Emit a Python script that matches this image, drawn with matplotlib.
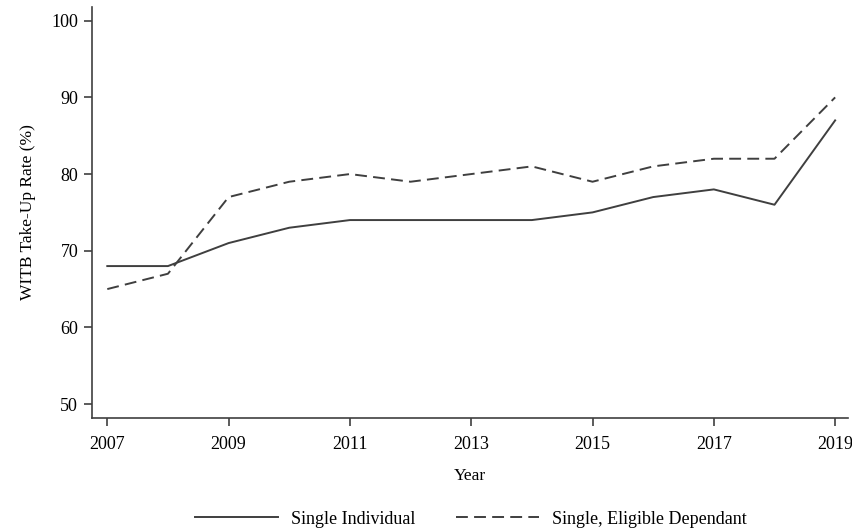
import matplotlib.pyplot as plt

years = list(range(2007, 2020))
single_individual = [68, 68, 71, 73, 74, 74, 74, 74, 75, 77, 78, 76, 87]
eligible_dependant = [65, 67, 77, 79, 80, 79, 80, 81, 79, 81, 82, 82, 90]
x_ticks = [2007, 2009, 2011, 2013, 2015, 2017, 2019]
y_ticks = [50, 60, 70, 80, 90, 100]

plt.rcParams['font.family'] = ['Liberation Serif', 'DejaVu Serif']
line_col = '#3f3f3f'

fig = plt.figure(figsize=(8.53, 5.31), dpi=100)
ax = fig.add_axes([0.108, 0.213, 0.886, 0.774])

ax.plot(years, single_individual, color=line_col, lw=1.4, label='Single Individual')
ax.plot(years, eligible_dependant, color=line_col, lw=1.4, ls=(0, (6.1, 3.2)),
        label='Single, Eligible Dependant')

ax.set_xlim(2006.75, 2019.21)
ax.set_ylim(48.2, 101.8)
ax.set_xticks(x_ticks)
ax.set_yticks(y_ticks)
ax.tick_params(labelsize=13, length=6, width=1.2, color=line_col)
ax.tick_params(axis='x', pad=7)
ax.tick_params(axis='y', pad=4)

for s in ['top', 'right']:
    ax.spines[s].set_visible(False)
for s in ['left', 'bottom']:
    ax.spines[s].set_color(line_col)
    ax.spines[s].set_linewidth(1.2)

ax.set_xlabel('Year', size=12.5, labelpad=11)
ax.set_ylabel('WITB Take-Up Rate (%)', size=12.5, labelpad=11)

fig.legend(loc='center', bbox_to_anchor=(0.552, 0.022), ncol=2, frameon=False,
           fontsize=13, handlelength=4.6, columnspacing=2.3, handletextpad=0.7)

plt.savefig('out.png', dpi=100)
